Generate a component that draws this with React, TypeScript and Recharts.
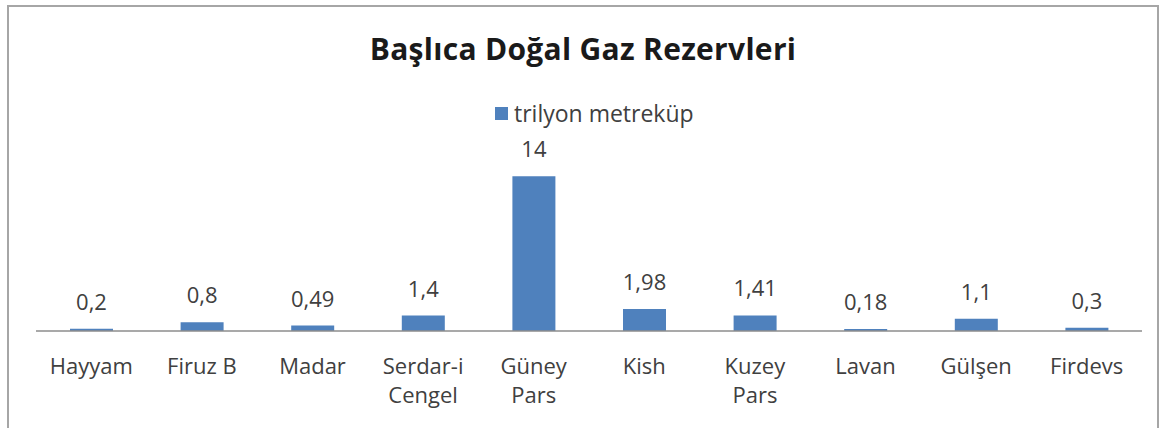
import React from 'react';
import { BarChart, Bar, XAxis, YAxis, LabelList } from 'recharts';

// Rezerv alanları ve değerleri (trilyon metreküp)
const sahalar = ['Hayyam', 'Firuz B', 'Madar', 'Serdar-i\nCengel', 'Güney\nPars', 'Kish', 'Kuzey\nPars', 'Lavan', 'Gülşen', 'Firdevs'];
const rezervler = [0.2, 0.8, 0.49, 1.4, 14, 1.98, 1.41, 0.18, 1.1, 0.3];

const seriAdi = 'trilyon metreküp';
const baslik = 'Başlıca Doğal Gaz Rezervleri';
const renk = '#4F81BD';
const yazi = '#404040';
const font = '"Open Sans", sans-serif';

const chartData = sahalar.map((saha, i) => ({ saha, deger: rezervler[i] }));

// Excel gibi virgüllü ondalık
const virgul = (v: any) => String(v).replace('.', ',');

const SahaTick = (props: any) => {
  const { x, y, payload } = props;
  const satirlar = String(payload.value).split('\n');
  return (
    <g transform={`translate(${x},${y})`}>
      {satirlar.map((s, i) => (
        <text key={i} x={0} y={35 + i * 29} textAnchor="middle" fill={yazi} fontSize={22} fontFamily={font}>
          {s}
        </text>
      ))}
    </g>
  );
};

export default function App() {
  return (
    <div style={{ position: 'absolute', left: 0, top: 0, width: 1166, height: 428, background: '#fff', fontFamily: font }}>
      <div style={{ position: 'absolute', left: 7, top: 5, width: 1152, height: 430, border: '2px solid #a6a6a6', boxSizing: 'border-box' }} />
      <div style={{ position: 'absolute', left: 0, top: 28, width: 1166, textAlign: 'center', fontSize: 30, fontWeight: 700, color: '#1a1a1a', letterSpacing: 0.3 }}>
        {baslik}
      </div>
      <div style={{ position: 'absolute', left: 495, top: 97, display: 'flex', alignItems: 'center', fontSize: 23, color: yazi }}>
        <span style={{ display: 'inline-block', width: 13, height: 13, background: renk, marginRight: 6 }} />
        {seriAdi}
      </div>
      <div style={{ position: 'absolute', left: 0, top: 0 }}>
        <BarChart width={1166} height={428} data={chartData} margin={{ top: 154, right: 24, left: 36, bottom: 37 }} barCategoryGap="30%">
          <XAxis dataKey="saha" interval={0} height={60} tickLine={false} tick={<SahaTick />} stroke="#8c8c8c" strokeWidth={1.5} />
          <YAxis hide domain={[0, 16]} />
          <Bar dataKey="deger" name={seriAdi} fill={renk} barSize={43} isAnimationActive={false}>
            <LabelList dataKey="deger" position="top" offset={19} formatter={virgul} fill={yazi} fontSize={22} fontFamily={font} />
          </Bar>
        </BarChart>
      </div>
    </div>
  );
}
